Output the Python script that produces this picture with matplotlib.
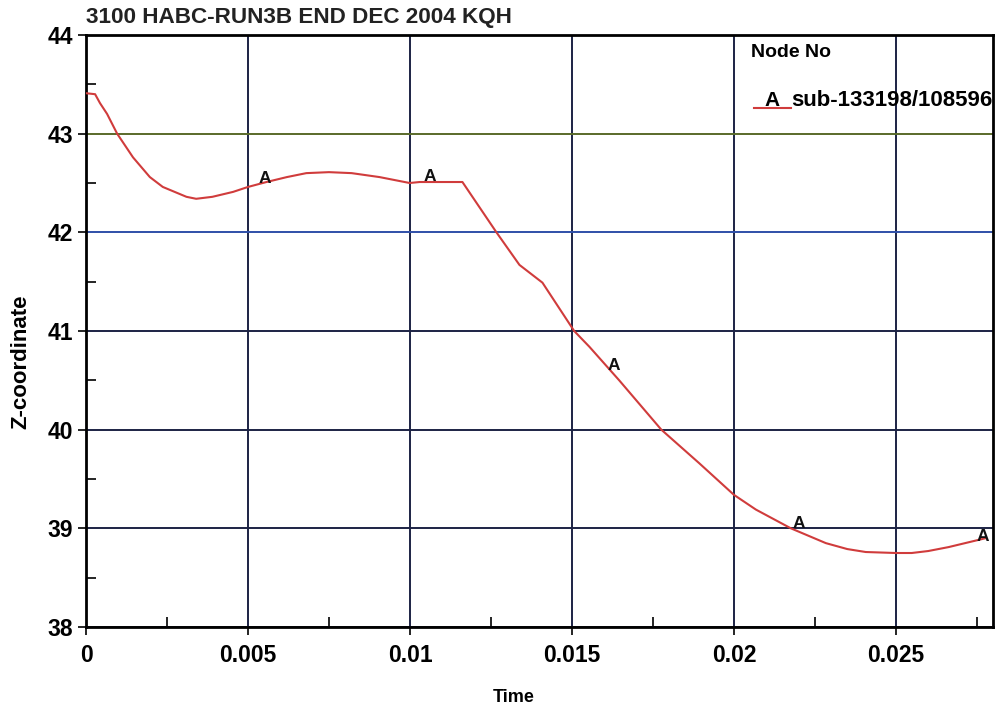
import matplotlib
matplotlib.use("Agg")
import matplotlib.pyplot as plt
from matplotlib.ticker import MultipleLocator
from matplotlib import font_manager

# ---- data ----
time = [0.0, 0.00028, 0.00043, 0.00065, 0.00096, 0.00145, 0.00197, 0.00237, 0.0031,
        0.0034, 0.0039, 0.00454, 0.005, 0.00557, 0.0062, 0.0068, 0.0075, 0.0082,
        0.00906, 0.00999, 0.0103, 0.01162, 0.01267, 0.01338, 0.01409, 0.01507,
        0.01554, 0.01646, 0.01776, 0.01893, 0.02, 0.02068, 0.02176, 0.02284,
        0.0235, 0.02407, 0.0250, 0.02549, 0.0260, 0.02663, 0.02777]
zcoord = [43.41, 43.40, 43.31, 43.20, 43.0, 42.76, 42.56, 42.46, 42.36,
          42.34, 42.36, 42.41, 42.46, 42.51, 42.56, 42.60, 42.61, 42.60,
          42.56, 42.50, 42.51, 42.51, 42.0, 41.67, 41.49, 41.0,
          40.84, 40.50, 40.0, 39.66, 39.34, 39.19, 39.0, 38.85,
          38.79, 38.76, 38.75, 38.75, 38.77, 38.81, 38.90]
marker_t = [0.00552, 0.0106, 0.0163, 0.0220, 0.0277]
marker_z = [42.55, 42.57, 40.65, 39.05, 38.92]
title = "3100 HABC-RUN3B END DEC 2004 KQH"
legend_title = "Node No"
series_label = "sub-133198/108596"
x_ticks = [0, 0.005, 0.01, 0.015, 0.02, 0.025]
x_ticklabels = ["0", "0.005", "0.01", "0.015", "0.02", "0.025"]
y_ticks = [38, 39, 40, 41, 42, 43, 44]

names = {f.name for f in font_manager.fontManager.ttflist}
fam = "Liberation Sans" if "Liberation Sans" in names else "DejaVu Sans"

fig = plt.figure(figsize=(9.97, 7.10), dpi=100)
ax = fig.add_axes([0.0863, 0.1169, 0.9097, 0.8338])

ax.plot(time, zcoord, color="#d03c3c", lw=1.5, zorder=3)
for t, z in zip(marker_t, marker_z):
    ax.text(t, z, "A", ha="center", va="center", fontsize=12.5, fontweight="bold",
            family=fam, color="#111111", zorder=4)

ax.set_xlim(0, 0.028)
ax.set_ylim(38, 44)
ax.set_xticks(x_ticks)
ax.set_xticklabels(x_ticklabels)
ax.set_yticks(y_ticks)
ax.xaxis.set_minor_locator(MultipleLocator(0.0025))
ax.yaxis.set_minor_locator(MultipleLocator(0.5))

ax.grid(True, which="major", color="#1c2244", lw=1.4, zorder=1)
hcolors = {43: "#5a6a2a", 42: "#2f4fa8"}
for gl, v in zip(ax.yaxis.get_gridlines(), y_ticks):
    gl.set_color(hcolors.get(v, "#1c2244"))

ax.tick_params(axis="both", which="major", length=6, width=1.2, colors="black")
ax.tick_params(axis="x", which="major", pad=6)
ax.tick_params(axis="both", which="minor", direction="in", length=7, width=1.2)
for lab in ax.get_xticklabels() + ax.get_yticklabels():
    lab.set_family(fam)
    lab.set_fontweight("bold")
    lab.set_fontsize(16.5)

for s in ax.spines.values():
    s.set_linewidth(2)
    s.set_color("black")

fig.text(0.0863, 0.975, title, ha="left", va="center", fontsize=16.2,
         fontweight="bold", family=fam, color="#222222")
ax.set_xlabel("Time", fontsize=13, fontweight="bold", family=fam)
ax.xaxis.set_label_coords(0.471, -0.104)
ax.set_ylabel("Z-coordinate", fontsize=16, fontweight="bold", family=fam)
ax.yaxis.set_label_coords(-0.060, 0.448)

# legend as text drawn in axes coordinates
ax.text(0.733, 0.971, legend_title, transform=ax.transAxes, ha="left", va="center",
        fontsize=14, fontweight="bold", family=fam, zorder=5)
ax.plot([0.737, 0.777], [0.877, 0.877], transform=ax.transAxes, color="#d03c3c",
        lw=1.5, zorder=5)
ax.text(0.756, 0.890, "A", transform=ax.transAxes, ha="center", va="center",
        fontsize=15, fontweight="bold", family=fam, zorder=5)
ax.text(0.778, 0.890, series_label, transform=ax.transAxes, ha="left", va="center",
        fontsize=16, fontweight="bold", family=fam, zorder=5)

fig.savefig("out.png", dpi=100)
